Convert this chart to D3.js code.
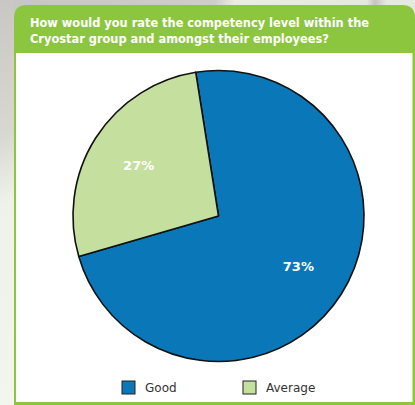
<!DOCTYPE html>
<html>
<head>
<meta charset="utf-8">
<script src="https://cdn.jsdelivr.net/npm/d3@7"></script>
<style>
  html, body { margin: 0; padding: 0; background: #ffffff; }
  svg { display: block; }
</style>
</head>
<body>
<script>
// Survey answers and their shares (percent)
const categories = ["Good", "Average"];
const values = [73, 27];
const colors = ["#0a78b8", "#c4df9e"];
const titleLines = [
  "How would you rate the competency level within the",
  "Cryostar group and amongst their employees?"
];

const W = 415, H = 405;
const svg = d3.select("body").append("svg").attr("width", W).attr("height", H);

// Backdrop: soft grey fading to pale green-white
const defs = svg.append("defs");
const bg = defs.append("linearGradient").attr("id", "bg")
  .attr("x1", 0).attr("y1", 0).attr("x2", 0.35).attr("y2", 1);
bg.append("stop").attr("offset", "0%").attr("stop-color", "#c9c7c3");
bg.append("stop").attr("offset", "30%").attr("stop-color", "#d8d8d2");
bg.append("stop").attr("offset", "45%").attr("stop-color", "#eef2ea");
bg.append("stop").attr("offset", "100%").attr("stop-color", "#f4f6f0");
svg.append("rect").attr("width", W).attr("height", H).attr("fill", "url(#bg)");

const topBand = defs.append("linearGradient").attr("id", "topband")
  .attr("x1", 0).attr("y1", 0).attr("x2", 1).attr("y2", 0);
topBand.append("stop").attr("offset", "0%").attr("stop-color", "#c8c6c2");
topBand.append("stop").attr("offset", "50%").attr("stop-color", "#cfcdc9");
topBand.append("stop").attr("offset", "55%").attr("stop-color", "#e9ede4");
topBand.append("stop").attr("offset", "88%").attr("stop-color", "#e4e8de");
topBand.append("stop").attr("offset", "90%").attr("stop-color", "#c4c4c0");
topBand.append("stop").attr("offset", "93%").attr("stop-color", "#e6e9e2");
topBand.append("stop").attr("offset", "100%").attr("stop-color", "#e6e9e2");
svg.append("rect").attr("x", 14).attr("y", 0).attr("width", W - 14).attr("height", 12)
  .attr("fill", "url(#topband)");

// Green panel with rounded top corners
const px = 14, py = 5, pw = W - px, ph = H - py, r = 13;
svg.append("path")
  .attr("d", `M${px},${py + r} Q${px},${py} ${px + r},${py} L${px + pw - r},${py} Q${px + pw},${py} ${px + pw},${py + r} L${px + pw},${py + ph} L${px},${py + ph} Z`)
  .attr("fill", "#8cc63f");

// White chart area inside the panel
svg.append("rect").attr("x", 16).attr("y", 53).attr("width", W - 16 - 2.5).attr("height", 349)
  .attr("fill", "#ffffff");

// Title
svg.append("g").selectAll("text").data(titleLines).join("text")
  .attr("x", 30).attr("y", (d, i) => 26.5 + i * 16)
  .attr("fill", "#ffffff")
  .attr("font-family", "'DejaVu Sans', Verdana, sans-serif")
  .attr("font-weight", "bold")
  .attr("font-size", "11.4px")
  .text(d => d);

// Pie
const cx = 218.5, cy = 216, radius = 145.5;
const offset = -9 * Math.PI / 180;
const pie = d3.pie().sort(null).value(d => d)
  .startAngle(offset).endAngle(offset + 2 * Math.PI);
const arcs = pie(values);
const arc = d3.arc().innerRadius(0).outerRadius(radius);
const g = svg.append("g").attr("transform", `translate(${cx},${cy})`);

g.selectAll("path").data(arcs).join("path")
  .attr("d", arc)
  .attr("fill", (d, i) => colors[i])
  .attr("stroke", "#111111")
  .attr("stroke-width", 1.6)
  .attr("stroke-linejoin", "round");

// Percentage labels inside the slices
const labelArc = d3.arc().innerRadius(radius * 0.65).outerRadius(radius * 0.65);
g.selectAll("text").data(arcs).join("text")
  .attr("transform", d => {
    const c = labelArc.centroid(d);
    return `translate(${c[0]},${c[1]})`;
  })
  .attr("text-anchor", "middle")
  .attr("dominant-baseline", "central")
  .attr("fill", "#ffffff")
  .attr("font-family", "'DejaVu Sans', Verdana, sans-serif")
  .attr("font-weight", "bold")
  .attr("font-size", "13px")
  .text(d => d.value + "%");

// Legend
const legendX = [122, 243];
const lg = svg.append("g");
categories.forEach((c, i) => {
  lg.append("rect")
    .attr("x", legendX[i]).attr("y", 381).attr("width", 13).attr("height", 13)
    .attr("fill", colors[i]).attr("stroke", "#222").attr("stroke-width", 1);
  lg.append("text")
    .attr("x", legendX[i] + 23).attr("y", 392)
    .attr("fill", "#333333")
    .attr("font-family", "'DejaVu Sans', Verdana, sans-serif")
    .attr("font-size", "12px")
    .text(c);
});
</script>
</body>
</html>
